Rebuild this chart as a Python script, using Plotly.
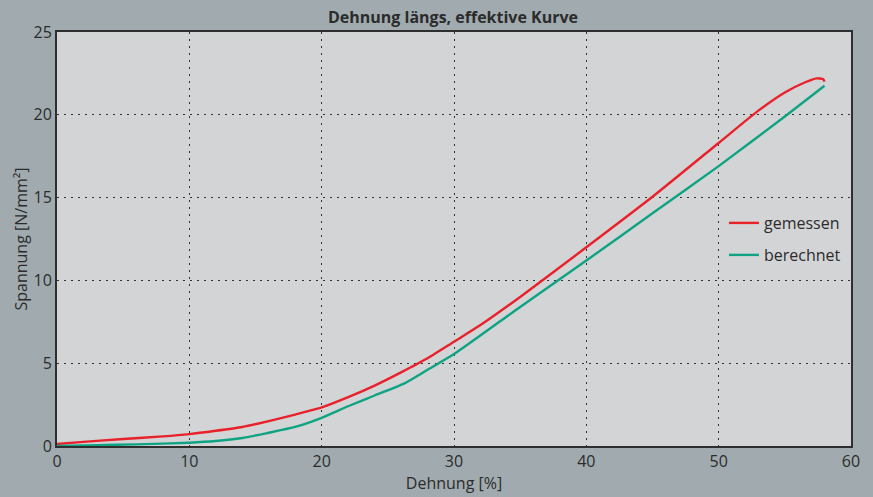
import plotly.graph_objects as go

# Data
x_gemessen = [0, 2, 5, 8, 10, 12, 14, 16, 18, 20, 22, 24, 26, 28, 30, 32, 35, 40, 45, 50, 53, 55, 56.5, 57.4, 57.9, 58.0]
y_gemessen = [0.12, 0.25, 0.42, 0.58, 0.72, 0.92, 1.15, 1.5, 1.9, 2.33, 2.95, 3.65, 4.45, 5.3, 6.3, 7.3, 9.0, 12.0, 15.05, 18.3, 20.25, 21.35, 21.95, 22.2, 22.15, 22.0]

x_berechnet = [0, 3, 6, 10, 12, 14, 16, 18, 20, 22, 24, 26.3, 28, 30, 35, 40, 45, 50, 55, 58]
y_berechnet = [0.0, 0.05, 0.1, 0.2, 0.3, 0.48, 0.8, 1.15, 1.7, 2.4, 3.05, 3.8, 4.6, 5.55, 8.4, 11.2, 14.05, 16.9, 19.9, 21.75]

x_ticks = [0, 10, 20, 30, 40, 50, 60]
y_ticks = [0, 5, 10, 15, 20, 25]

FONT = "Open Sans"
TXT = "#2b2b2b"

fig = go.Figure()
fig.add_trace(go.Scatter(x=x_gemessen, y=y_gemessen, mode="lines", name="gemessen", legend="legend",
                         line=dict(color="#e8212b", width=2.4, shape="spline", smoothing=0.6)))
fig.add_trace(go.Scatter(x=x_berechnet, y=y_berechnet, mode="lines", name="berechnet", legend="legend2",
                         line=dict(color="#0fa383", width=2.4, shape="spline", smoothing=0.6)))

leg_common = dict(x=0.840, xanchor="left", yanchor="middle", bgcolor="rgba(0,0,0,0)",
                  font=dict(size=16, color=TXT, family=FONT))

fig.update_layout(
    width=873, height=497,
    margin=dict(l=57, r=22, t=32, b=51),
    paper_bgcolor="#a1abaf",
    plot_bgcolor="#d3d4d6",
    font=dict(family=FONT, size=16, color=TXT),
    title=dict(text="<b>Dehnung längs, effektive Kurve</b>", x=453 / 873, xanchor="center",
               y=1 - 17 / 497, yanchor="middle", font=dict(size=16, color=TXT, family=FONT)),
    legend=dict(y=(446 - 223) / 414, **leg_common),
    legend2=dict(y=(446 - 255) / 414, **leg_common),
    showlegend=True,
)
grid = dict(showgrid=True, gridcolor="#333333", griddash="2px,5px", gridwidth=1,
            zeroline=False, showline=True, linecolor="#2e2e2e", linewidth=2, mirror=True,
            ticks="", automargin=False, tickfont=dict(size=16))
fig.update_xaxes(range=[0, 60], tickvals=x_ticks,
                 title=dict(text="Dehnung [%]", font=dict(size=16), standoff=4), **grid)
fig.update_yaxes(range=[0, 25], tickvals=y_ticks,
                 title=dict(text="Spannung [N/mm²]", font=dict(size=16), standoff=2), **grid)

fig.write_html("out.html", config={"displayModeBar": False},
               post_script="document.body.style.margin='0';document.body.style.padding='0';")
